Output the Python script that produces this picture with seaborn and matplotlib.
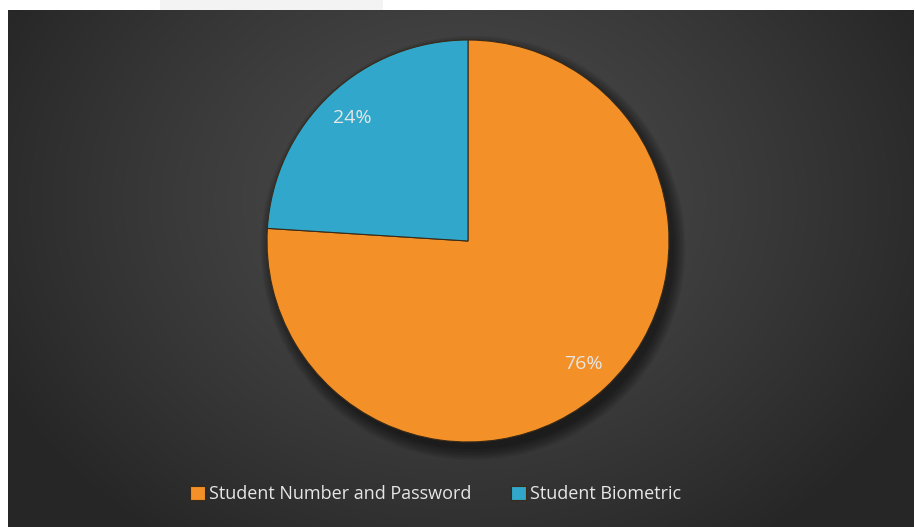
import numpy as np
import matplotlib
matplotlib.use("Agg")
import matplotlib.pyplot as plt
from matplotlib.patches import Rectangle, Circle
import seaborn as sns

labels = ["Student Number and Password", "Student Biometric"]
shares = [76, 24]
colors = ["#F39128", "#31A8CB"]

sns.set_theme(style="white")
plt.rcParams["font.family"] = ["Open Sans", "DejaVu Sans"]

W, H = 915, 527
fig = plt.figure(figsize=(W / 100, H / 100), dpi=100, facecolor="white")

# dark panel with a soft radial gradient
bg = fig.add_axes([0, 0, 1, 1])
bg.set_xlim(0, W)
bg.set_ylim(H, 0)
bg.axis("off")
x0, x1, y0, y1 = 8, 914, 10, 527
xx, yy = np.meshgrid(np.linspace(x0, x1, 400), np.linspace(y0, y1, 240))
d = np.sqrt(((xx - 460) / 520) ** 2 + ((yy - 200) / 420) ** 2)
d = np.clip(d, 0, 1)
c_in, c_out = 0x4B / 255, 0x26 / 255
grey = c_in + (c_out - c_in) * d ** 1.3
img = np.dstack([grey, grey, grey])
bg.imshow(img, extent=(x0, x1, y1, y0), aspect="auto", interpolation="bilinear", zorder=0)
bg.add_patch(Rectangle((160, 0), 223, 10, color="#F3F3F3", lw=0, zorder=1))

# pie
cx, cy, R = 468, 241, 201
ax = fig.add_axes([(cx - R) / W, (H - cy - R) / H, 2 * R / W, 2 * R / H])
ax.axis("off")
for k in range(8):
    ax.add_patch(Circle((0.025, -0.035), 1.0 + 0.008 * k, color="black",
                        alpha=0.07, lw=0, zorder=0, clip_on=False))
wedges, texts, autotexts = ax.pie(
    shares, colors=colors, startangle=90, counterclock=False,
    autopct="%1.0f%%", pctdistance=0.84,
    wedgeprops=dict(edgecolor="#3a2a18", linewidth=0.8),
    textprops=dict(color="#E6E6E6", fontsize=14),
)
for w in wedges:
    w.set_zorder(2)
for t in autotexts:
    t.set_zorder(3)
ax.set_xlim(-1.0, 1.0)
ax.set_ylim(-1.0, 1.0)
ax.set_aspect("equal")

leg = fig.legend(
    wedges, labels, loc="center", bbox_to_anchor=(436 / W, 1 - 494 / H),
    ncol=2, frameon=False, fontsize=13, labelcolor="#E6E6E6",
    handlelength=0.8, handleheight=0.8, handletextpad=0.25, columnspacing=2.2,
)

fig.savefig("out.png", dpi=100, facecolor="white")
